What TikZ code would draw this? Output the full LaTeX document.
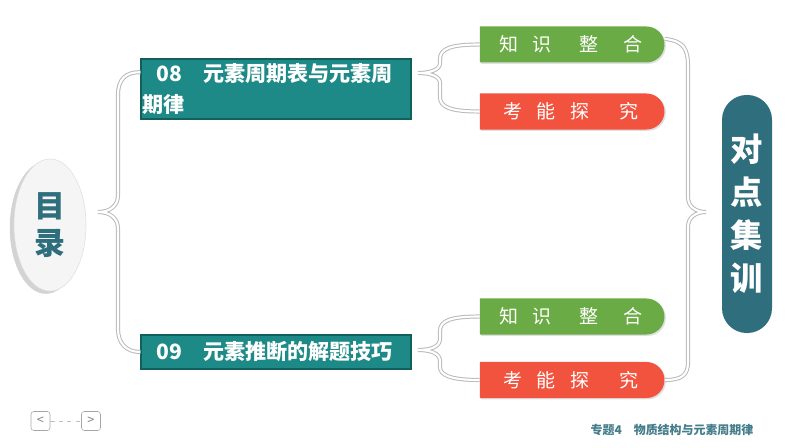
\documentclass[tikz,border=0pt]{standalone}
\usepackage{fontspec}
\setmainfont{Noto Sans CJK SC}
\usetikzlibrary{shapes.geometric,shapes.misc,shadows}
\definecolor{tealbox}{HTML}{1E8A87}
\definecolor{tealedge}{HTML}{135F5C}
\definecolor{tealpill}{HTML}{2F6E7D}
\definecolor{greenpill}{HTML}{6AAB45}
\definecolor{redpill}{HTML}{F2533F}

\begin{document}
\begin{tikzpicture}[x=0.025cm,y=0.025cm,
    topic/.style={rectangle,fill=tealbox,draw=tealedge,line width=0.8pt,
      text width=6.68cm,inner xsep=1pt,inner ysep=2pt,align=left,text=white,
      font=\fontsize{15}{18}\selectfont\bfseries},
    tab/.style={rounded rectangle,rounded rectangle left arc=none,
      minimum width=4.85cm,minimum height=0.9cm,text=white,
      font=\fontsize{13.5}{14}\selectfont,
      drop shadow={shadow xshift=1pt,shadow yshift=-1pt,opacity=0.25}},
    bracket/.style={draw=gray!55,double=white,double distance=1.5pt,line width=0.7pt},
    navbtn/.style={draw=gray!70,rounded corners=2pt,minimum size=0.475cm,
      inner sep=0pt,text=gray,font=\fontsize{9}{9}\selectfont}]
  \useasboundingbox (0,0) rectangle (794,447);

  \node[ellipse,fill=gray!8,draw=gray!25,minimum width=1.8cm,minimum height=3.3cm,
    drop shadow={shadow xshift=-3pt,shadow yshift=-2pt,opacity=0.35},
    align=center,text=tealpill,font=\fontsize{22}{26}\selectfont\bfseries] (mulu) at (50,222) {目\\录};

  \node[topic,minimum height=1.5cm] (ch08) at (276,358) {\vspace*{4pt}\hspace*{10pt}08\quad 元素周期表与元素周\\期律};
  \node[topic,minimum height=0.85cm] (ch09) at (276,95) {\hspace*{10pt}09\quad 元素推断的解题技巧};

  \node[tab,fill=greenpill] (zs1) at (571,402.5) {知\hspace{0.7em}识\hspace{1.5em}整\hspace{1.3em}合};
  \node[tab,fill=redpill] (kn1) at (571,335.5) {考\hspace{0.75em}能\hspace{0.75em}探\hspace{1.6em}究};
  \node[tab,fill=greenpill] (zs2) at (571,130.5) {知\hspace{0.7em}识\hspace{1.5em}整\hspace{1.3em}合};
  \node[tab,fill=redpill] (kn2) at (571,67) {考\hspace{0.75em}能\hspace{0.75em}探\hspace{1.6em}究};

  \node[rectangle,fill=tealpill,rounded corners=0.62cm,minimum width=1.25cm,minimum height=5.95cm,
    text=white,align=center,font=\fontsize{23}{30.5}\selectfont\bfseries] (dxjx) at (747,233) {对\\点\\集\\训};

  \draw[bracket] ([yshift=0.42cm]ch08.west) .. controls (126,375) and (118,368) .. (118,352)
    -- (118,252) .. controls (118,241) and (110,235) .. (98,235)
    .. controls (110,235) and (118,229) .. (118,218)
    -- (118,118) .. controls (118,104) and (126,95) .. (ch09.west);
  \draw[bracket] (zs1.west) .. controls (450,402.5) and (440,398) .. (440,388)
    -- (440,384) .. controls (440,377) and (430,374) .. (418,374)
    .. controls (430,374) and (440,371) .. (440,364)
    -- (440,350) .. controls (440,340) and (450,335.5) .. (kn1.west);
  \draw[bracket] (zs2.west) .. controls (450,130.5) and (440,126) .. (440,116)
    -- (440,108) .. controls (440,100) and (430,97) .. (418,97)
    .. controls (430,97) and (440,94) .. (440,86)
    -- (440,80) .. controls (440,72) and (450,67) .. (kn2.west);
  \draw[bracket] ([yshift=4pt]zs1.east) .. controls (684,406) and (688,398) .. (688,380)
    -- (688,250) .. controls (688,240) and (696,235) .. (706,235)
    .. controls (696,235) and (688,230) .. (688,220)
    -- (688,85) .. controls (688,72) and (682,67) .. (kn2.east);

  \node[navbtn] (prev) at (40.5,26) {<};
  \node[navbtn] (next) at (91,26) {>};
  \draw[gray!50,dashed] (prev) -- (next);

  \node[text=tealpill!90,font=\fontsize{8.5}{9}\selectfont\bfseries] (footer) at (672,17) {专题4\quad 物质结构与元素周期律};
\end{tikzpicture}
\end{document}
